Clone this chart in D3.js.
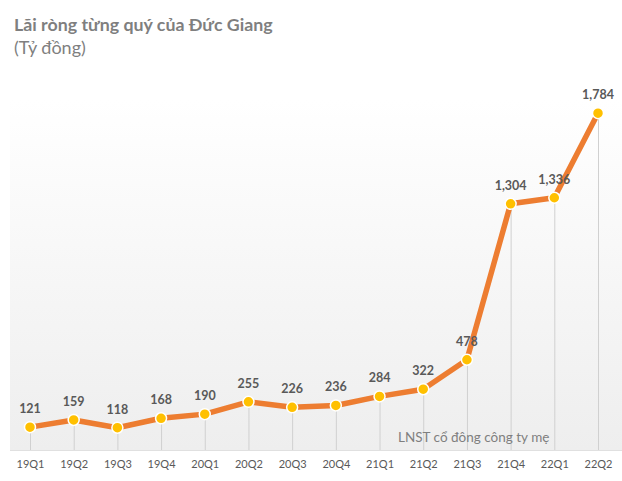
<!DOCTYPE html>
<html><head><meta charset="utf-8">
<script src="https://cdn.jsdelivr.net/npm/d3@7/dist/d3.min.js"></script>
<style>body{margin:0;background:#fff;}svg{display:block;}</style>
</head><body>
<svg id="c" width="622" height="481"></svg>
<script>
const categories = ["19Q1","19Q2","19Q3","19Q4","20Q1","20Q2","20Q3","20Q4","21Q1","21Q2","21Q3","21Q4","22Q1","22Q2"];
const values = [121,159,118,168,190,255,226,236,284,322,478,1304,1336,1784];
const seriesName = "LNST cổ đông công ty mẹ";
const title = "Lãi ròng từng quý của Đức Giang";
const subtitle = "(Tỷ đồng)";

const svg = d3.select("#c");
const font = "Lato, 'Open Sans', sans-serif";
const defs = svg.append("defs");
const grad = defs.append("linearGradient").attr("id","bg").attr("x1",0).attr("y1",0).attr("x2",0).attr("y2",1);
grad.append("stop").attr("offset","0%").attr("stop-color","#ffffff");
grad.append("stop").attr("offset","100%").attr("stop-color","#eeeeee");

const plotTop = 100, plotBottom = 450, plotLeft = 10, plotRight = 622;
svg.append("rect").attr("x",plotLeft).attr("y",plotTop).attr("width",plotRight-plotLeft).attr("height",plotBottom-plotTop).attr("fill","url(#bg)");

const x = d3.scalePoint().domain(categories).range([30,598]);
const y = d3.scaleLinear().domain([0,2000]).range([450,72.4]);

svg.append("line").attr("x1",plotLeft).attr("x2",plotRight).attr("y1",plotBottom+0.5).attr("y2",plotBottom+0.5).attr("stroke","#e0e0e0");

const data = categories.map((c,i)=>({c,v:values[i]}));
svg.append("g").selectAll("line").data(data).join("line")
  .attr("x1",d=>x(d.c)+0.5).attr("x2",d=>x(d.c)+0.5)
  .attr("y1",d=>y(d.v)).attr("y2",plotBottom)
  .attr("stroke","#d0d0d0").attr("stroke-width",1);

svg.append("path").datum(data)
  .attr("d", d3.line().x(d=>x(d.c)).y(d=>y(d.v)))
  .attr("fill","none").attr("stroke","#ED7D31").attr("stroke-width",5.5).attr("stroke-linejoin","round");

svg.append("g").selectAll("circle").data(data).join("circle")
  .attr("cx",d=>x(d.c)).attr("cy",d=>y(d.v)).attr("r",5.5)
  .attr("fill","#FFC000").attr("stroke","#ffffff").attr("stroke-width",1.5);

svg.append("g").selectAll("text").data(data).join("text")
  .attr("x",d=>x(d.c)).attr("y",d=>y(d.v)-14)
  .attr("text-anchor","middle").attr("font-family",font).attr("font-weight","bold")
  .attr("font-size",12.5).attr("fill","#595959")
  .text(d=>d3.format(",")(d.v));

const xAxis = d3.axisBottom(x).tickSize(0).tickPadding(10);
const ax = svg.append("g").attr("transform",`translate(0,${plotBottom})`).call(xAxis);
ax.select(".domain").remove();
ax.selectAll("text").attr("font-family",font).attr("font-size",11).attr("fill","#595959");

svg.append("text").attr("x",398).attr("y",442).attr("font-family",font).attr("font-size",13.5).attr("fill","#7f7f7f").text(seriesName);

svg.append("text").attr("x",14).attr("y",31).attr("font-family",font).attr("font-weight","bold").attr("font-size",17.8).attr("fill","#7f7f7f").text(title);
svg.append("text").attr("x",14).attr("y",54).attr("font-family",font).attr("font-size",18).attr("fill","#7f7f7f").text(subtitle);
</script>
</body></html>
